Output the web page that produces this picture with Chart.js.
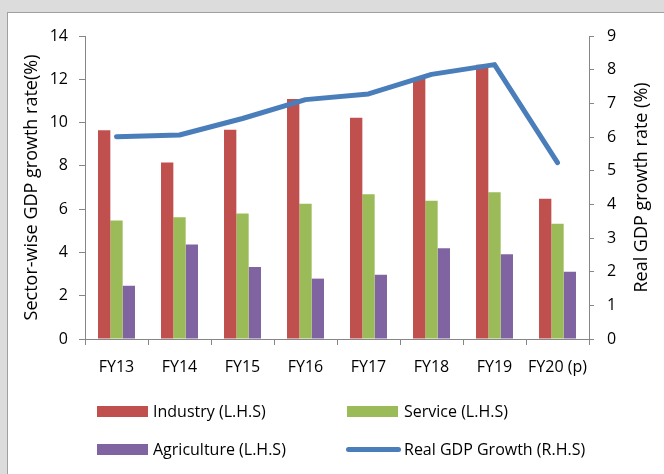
<!DOCTYPE html>
<html lang="en">

<head>
  <meta charset="utf-8" />
  <title>Sector-wise GDP growth</title>
  <script src="https://cdn.jsdelivr.net/npm/chart.js"></script>
  <style>
    body {
      margin: 0;
      width: 664px;
      height: 474px;
      overflow: hidden;
      background: #dcdcdc;
      font-family: "Open Sans", sans-serif;
    }

    .panel {
      position: absolute;
      left: 7px;
      top: 12px;
      width: 700px;
      height: 500px;
      background: #fff;
      border: 1px solid #a0a0a0;
    }

    #gdpChart {
      position: absolute;
      left: 0;
      top: 0;
    }

    .legend-item {
      position: absolute;
      font-size: 16px;
      color: #000;
      line-height: 20px;
      white-space: nowrap;
    }

    .swatch {
      position: absolute;
      width: 51px;
      height: 11px;
    }

    .swatch.line {
      height: 5px;
      border-radius: 3px;
    }
  </style>
</head>

<body>
  <div class="panel"></div>
  <canvas id="gdpChart" width="664" height="474"></canvas>

  <div class="swatch" style="left:97px; top:406px; background:#c0504d"></div>
  <div class="legend-item" style="left:153px; top:401px">Industry (L.H.S)</div>
  <div class="swatch" style="left:347px; top:406px; background:#9bbb59"></div>
  <div class="legend-item" style="left:404px; top:401px">Service (L.H.S)</div>
  <div class="swatch" style="left:97px; top:444px; background:#8064a2"></div>
  <div class="legend-item" style="left:153px; top:439px">Agriculture (L.H.S)</div>
  <div class="swatch line" style="left:346px; top:447px; width:55px; background:#4a7ebb"></div>
  <div class="legend-item" style="left:404px; top:439px">Real GDP Growth (R.H.S)</div>

  <script>
    const years = ['FY13', 'FY14', 'FY15', 'FY16', 'FY17', 'FY18', 'FY19', 'FY20 (p)'];
    const industry = [9.64, 8.16, 9.67, 11.09, 10.22, 12.06, 12.67, 6.48];
    const service = [5.48, 5.62, 5.80, 6.25, 6.69, 6.39, 6.78, 5.32];
    const agriculture = [2.46, 4.37, 3.33, 2.79, 2.97, 4.19, 3.92, 3.11];
    const realGdp = [6.01, 6.06, 6.55, 7.11, 7.28, 7.86, 8.15, 5.24];

    const axisGray = '#868686';
    const tickFont = { family: 'Open Sans', size: 16 };
    const titleFont = { family: 'Open Sans', size: 18 };

    // right-hand title reads bottom-to-top like the left one
    const rightTitle = {
      id: 'rightTitle',
      afterDraw(chart) {
        const { ctx, chartArea } = chart;
        ctx.save();
        ctx.translate(642, (chartArea.top + chartArea.bottom) / 2);
        ctx.rotate(-Math.PI / 2);
        ctx.font = '18px "Open Sans"';
        ctx.fillStyle = '#000';
        ctx.textAlign = 'center';
        ctx.textBaseline = 'middle';
        ctx.fillText('Real GDP growth rate (%)', 0, 0);
        ctx.restore();
      }
    };

    const ctx = document.getElementById('gdpChart').getContext('2d');
    new Chart(ctx, {
      data: {
        labels: years,
        datasets: [
          {
            type: 'line',
            label: 'Real GDP Growth (R.H.S)',
            data: realGdp,
            yAxisID: 'y1',
            borderColor: '#4a7ebb',
            borderWidth: 5,
            pointRadius: 0,
            tension: 0,
            borderCapStyle: 'round',
            borderJoinStyle: 'round',
            order: 0
          },
          {
            type: 'bar',
            label: 'Industry (L.H.S)',
            data: industry,
            yAxisID: 'y',
            backgroundColor: '#c0504d',
            order: 1
          },
          {
            type: 'bar',
            label: 'Service (L.H.S)',
            data: service,
            yAxisID: 'y',
            backgroundColor: '#9bbb59',
            order: 1
          },
          {
            type: 'bar',
            label: 'Agriculture (L.H.S)',
            data: agriculture,
            yAxisID: 'y',
            backgroundColor: '#8064a2',
            order: 1
          }
        ]
      },
      options: {
        responsive: false,
        animation: false,
        layout: { padding: { left: 0, right: 0, top: 36, bottom: 95 } },
        datasets: {
          bar: { categoryPercentage: 0.587, barPercentage: 1 }
        },
        plugins: {
          legend: { display: false },
          tooltip: { enabled: false }
        },
        scales: {
          x: {
            grid: { offset: true, drawOnChartArea: false, tickLength: 6, color: axisGray },
            border: { color: axisGray },
            ticks: { color: '#000', font: tickFont, padding: 13, maxRotation: 0, autoSkip: false },
            afterFit: (s) => { s.height = 40; }
          },
          y: {
            position: 'left',
            min: 0,
            max: 14,
            ticks: { stepSize: 2, color: '#000', font: tickFont, padding: 11 },
            grid: { drawOnChartArea: false, tickLength: 6, color: axisGray },
            border: { color: axisGray },
            title: {
              display: true,
              text: 'Sector-wise GDP growth rate(%)',
              color: '#000',
              font: titleFont,
              padding: { top: 21, bottom: 0 }
            },
            afterFit: (s) => { s.width = 85; }
          },
          y1: {
            position: 'right',
            min: 0,
            max: 9,
            ticks: { stepSize: 1, color: '#000', font: tickFont, padding: 13 },
            grid: { drawOnChartArea: false, tickLength: 5, color: axisGray },
            border: { color: axisGray },
            afterFit: (s) => { s.width = 75; }
          }
        }
      },
      plugins: [rightTitle]
    });
  </script>
</body>

</html>
